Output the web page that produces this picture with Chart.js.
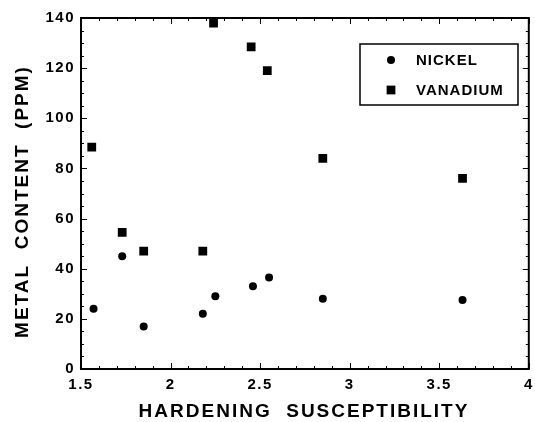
<!DOCTYPE html>
<html>
<head>
<meta charset="utf-8">
<script src="https://cdn.jsdelivr.net/npm/chart.js@4"></script>
<style>
  body { margin: 0; background: #fff; }
  canvas { display: block; }
</style>
</head>
<body>
<canvas id="grafico" width="535" height="422"></canvas>
<script>
// Dados
const nickelX = [1.57, 1.73, 1.85, 2.18, 2.25, 2.46, 2.55, 2.85, 3.63];
const nickelY = [24, 45, 17, 22, 29, 33, 36.5, 28, 27.5];
const vanadiumX = [1.56, 1.73, 1.85, 2.18, 2.24, 2.45, 2.54, 2.85, 3.63];
const vanadiumY = [88.5, 54.5, 47, 47, 138, 128.5, 119, 84, 76];

const xTitulo = 'HARDENING  SUSCEPTIBILITY';
const yTitulo = 'METAL  CONTENT  (PPM)';

const fonte = '"Liberation Sans", Arial, sans-serif';

const pares = (xs, ys) => xs.map((x, i) => ({ x: x, y: ys[i] }));

// moldura, ticks internos, títulos e legenda
const extras = {
    id: 'extras',
    beforeDraw(chart) {
        // espaçamento das letras dos rótulos dos eixos
        chart.ctx.letterSpacing = '1.5px';
    },
    afterDraw(chart) {
        const ctx = chart.ctx;
        const a = chart.chartArea;
        const sx = chart.scales.x;
        const sy = chart.scales.y;
        ctx.save();
        ctx.strokeStyle = '#000';

        // ticks para dentro
        ctx.lineWidth = 1;
        ctx.beginPath();
        for (let i = 15; i <= 40; i++) {
            const px = Math.round(sx.getPixelForValue(i / 10)) + 0.5;
            const len = i % 5 === 0 ? 6 : 3;
            ctx.moveTo(px, a.bottom); ctx.lineTo(px, a.bottom - len);
            ctx.moveTo(px, a.top); ctx.lineTo(px, a.top + len);
        }
        for (let v = 0; v <= 140; v += 5) {
            const py = Math.round(sy.getPixelForValue(v)) + 0.5;
            const len = v % 20 === 0 ? 6 : 3;
            ctx.moveTo(a.left, py); ctx.lineTo(a.left + len, py);
            ctx.moveTo(a.right, py); ctx.lineTo(a.right - len, py);
        }
        ctx.stroke();

        // moldura
        ctx.lineWidth = 2;
        ctx.strokeRect(a.left, a.top, a.right - a.left, a.bottom - a.top);

        // títulos dos eixos
        ctx.fillStyle = '#000';
        ctx.font = 'bold 19px ' + fonte;
        ctx.letterSpacing = '2px';
        ctx.textAlign = 'center';
        ctx.textBaseline = 'middle';
        ctx.fillText(xTitulo, 304, 412);
        ctx.save();
        ctx.translate(23, (a.top + a.bottom) / 2 + 8);
        ctx.rotate(-Math.PI / 2);
        ctx.fillText(yTitulo, 0, 0);
        ctx.restore();

        // legenda
        ctx.lineWidth = 1.5;
        ctx.strokeRect(360, 44, 158, 61);
        ctx.font = 'bold 15px ' + fonte;
        ctx.letterSpacing = '1px';
        ctx.textAlign = 'left';
        const linhas = [60, 90];
        chart.data.datasets.forEach((ds, i) => {
            Chart.helpers.drawPoint(ctx, {
                pointStyle: ds.pointStyle,
                radius: ds.pointRadius,
                borderWidth: 0
            }, 391, linhas[i]);
            ctx.fillStyle = '#000';
            ctx.fillText(ds.label, 416, linhas[i] + 1);
        });
        ctx.restore();
        ctx.letterSpacing = '0px';
    }
};

new Chart(document.getElementById('grafico'), {
    type: 'scatter',
    data: {
        datasets: [
            {
                label: 'NICKEL',
                data: pares(nickelX, nickelY),
                pointStyle: 'circle',
                pointRadius: 4,
                backgroundColor: '#000',
                borderColor: '#000',
                borderWidth: 0
            },
            {
                label: 'VANADIUM',
                data: pares(vanadiumX, vanadiumY),
                pointStyle: 'rect',
                pointRadius: 6.2,
                backgroundColor: '#000',
                borderColor: '#000',
                borderWidth: 0
            }
        ]
    },
    options: {
        responsive: false,
        animation: false,
        layout: { padding: { top: 18, right: 6, left: 0, bottom: 0 } },
        plugins: {
            legend: { display: false },
            tooltip: { enabled: false }
        },
        scales: {
            x: {
                type: 'linear',
                min: 1.5,
                max: 4,
                afterFit: s => {
                    s.height = 53;
                    s.paddingLeft = 0;
                    s.paddingRight = 0;
                },
                grid: { display: false, drawTicks: false },
                border: { display: false },
                ticks: {
                    stepSize: 0.5,
                    padding: 7,
                    maxRotation: 0,
                    color: '#000',
                    font: { family: fonte, size: 15, weight: 'bold' },
                    callback: v => String(v)
                }
            },
            y: {
                min: 0,
                max: 140,
                afterFit: s => {
                    s.width = 81;
                    s.paddingTop = 0;
                    s.paddingBottom = 0;
                },
                grid: { display: false, drawTicks: false },
                border: { display: false },
                ticks: {
                    stepSize: 20,
                    padding: 6,
                    color: '#000',
                    font: { family: fonte, size: 15, weight: 'bold' }
                }
            }
        }
    },
    plugins: [extras]
});
</script>
</body>
</html>
